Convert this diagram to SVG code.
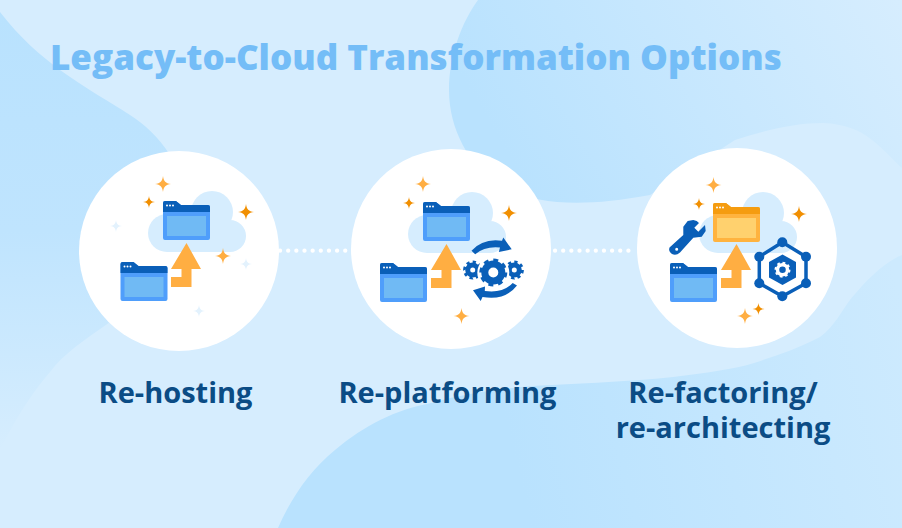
<svg xmlns="http://www.w3.org/2000/svg" width="902" height="528" viewBox="0 0 902 528">
<style>
.t{font-family:"Open Sans","Noto Sans",sans-serif;font-weight:700;fill:#0b4c85;font-size:29px;text-anchor:middle}
.title{font-family:"Open Sans","Noto Sans",sans-serif;font-weight:800;fill:#74bdf7;font-size:35px}
.c{fill:#fff}.cl{fill:#d6edfe}.bar{fill:#0a5fb8}.body{fill:#4f9efb}.pane{fill:#70baf4}
.o{fill:#ffae42}.d{fill:#f18f01}.f{fill:#e3f2fd}.g{fill:#0a5fb8}
.ob{fill:#f59c10}.ob2{fill:#ffb33f}.op{fill:#ffd16e}
.dot{fill:none;stroke:#fff;stroke-width:4.200;stroke-linecap:round;stroke-dasharray:.1 8.05}
.ring{fill:none;stroke:#0a5fb8}
</style>
<defs>
<linearGradient id="gl" x1="0" y1="0" x2="0" y2="1"><stop offset="0" stop-color="#b9e2fe"/><stop offset=".5" stop-color="#bfe4fe"/><stop offset="1" stop-color="#d6edfe"/></linearGradient>
<linearGradient id="gt" gradientUnits="userSpaceOnUse" x1="540" y1="210" x2="900" y2="0"><stop offset="0" stop-color="#b9e2fe"/><stop offset="1" stop-color="#d6edfe"/></linearGradient>
<linearGradient id="gb" gradientUnits="userSpaceOnUse" x1="500" y1="400" x2="902" y2="300"><stop offset="0" stop-color="#b9e2fe"/><stop offset="1" stop-color="#cdeafe"/></linearGradient>
<path id="s" d="M0-8C.8-2.500 2.500-.8 8 0 2.500.8.8 2.500 0 8-.8 2.500-2.500.8-8 0-2.500-.8-.8-2.500 0-8Z"/>
<g id="cloud"><circle cx="19" cy="42" r="19"/><circle cx="64" cy="21" r="21"/><circle cx="82" cy="45" r="16"/><rect x="19" y="24" width="63" height="37"/></g>
<g id="win"><path class="body" d="M0 2q0-2 2-2h11l5 4h27q2 0 2 2v31q0 2-2 2H2q-2 0-2-2Z"/><path class="bar" d="M0 6V2q0-2 2-2h11l5 4h27q2 0 2 2v5H0Z"/><rect class="pane" x="4" y="15" width="39" height="20"/><circle class="c" cx="4" cy="4.500" r="1"/><circle class="c" cx="7" cy="4.500" r="1"/><circle class="c" cx="10" cy="4.500" r="1"/></g>
<path id="arrow" d="M15.500 0 30 26H20.500V44H0V34H10.500V26H0Z"/>
<g id="sidegear"><circle class="ring" r="5" stroke-width="5"/><circle class="ring" r="8" stroke-width="3.200" pathLength="16" stroke-dasharray="1 1"/></g>
</defs>
<rect width="902" height="528" fill="#d6edfe"/>
<path fill="url(#gl)" d="M0 12C20 38 40 55 60 70 85 88 110 102 130 115 145 125 158 136 170 155L180 300 110 322C85 340 65 352 50 372 30 395 15 420 0 450Z"/>
<path fill="url(#gt)" d="M478 0C462 22 449 55 449 90 449 130 470 165 495 183 530 205 580 208 650 195L735 140C765 130 795 123 823 123 845 124 860 130 872 140 885 150 893 160 902 168V0Z"/>
<path fill="url(#gb)" d="M278 528C290 500 310 470 335 450 365 425 395 410 431 403 470 392 510 387 552 385 590 383 635 381 673 377 705 373 735 369 754 363 775 356 795 350 820 337 835 326 842 310 850 300 860 288 880 264 902 255V528Z"/>
<text class="title" x="50" y="70">Legacy-to-Cloud Transformation Options</text>
<g id="connectors">
<path class="dot" d="M280 250.700H346"/>
<path class="dot" d="M555 250.700H636"/>
</g>
<g id="node-rehosting">
<circle class="c" cx="179" cy="251" r="100"/>
<use href="#cloud" class="cl" x="148" y="191"/>
<use href="#win" x="163" y="201"/>
<use href="#win" x="120.500" y="262"/>
<use href="#arrow" class="o" x="171" y="243"/>
<use href="#s" class="o" x="163" y="184"/>
<use href="#s" class="d" transform="translate(149 202) scale(.75)"/>
<use href="#s" class="d" x="246" y="212"/>
<use href="#s" class="o" x="223" y="256"/>
<use href="#s" class="f" transform="translate(116 226) scale(.75)"/>
<use href="#s" class="f" transform="translate(246 264) scale(.75)"/>
<use href="#s" class="f" transform="translate(199 311) scale(.75)"/>
<text class="t" x="175.500" y="403">Re-hosting</text>
</g>
<g id="node-replatforming">
<circle class="c" cx="451" cy="249" r="100"/>
<use href="#cloud" class="cl" x="408" y="192"/>
<use href="#win" x="423" y="202"/>
<use href="#win" x="380" y="263"/>
<use href="#arrow" class="o" x="431" y="244"/>
<use href="#s" class="o" x="423" y="184"/>
<use href="#s" class="d" transform="translate(409 203) scale(.75)"/>
<use href="#s" class="d" x="509" y="213"/>
<use href="#s" class="o" x="461.500" y="316"/>
<use href="#sidegear" x="472.700" y="270"/>
<use href="#sidegear" x="514.300" y="270"/>
<circle class="c" cx="493.300" cy="272.500" r="16"/>
<circle class="ring" cx="493.300" cy="272.500" r="8.500" stroke-width="7"/>
<circle class="ring" cx="493.300" cy="272.500" r="12" stroke-width="4" pathLength="16" stroke-dasharray="1 1"/>
<path class="g" d="M471.500 250.800Q483 238 502 240.800L503.300 237.500 511.700 249.300 498.800 252 500 247.500Q485 246 475.200 254.200Z"/>
<path class="g" d="M517 285.500Q505 301 482.500 297L480.700 301 473 290.300 485 286.500 484.800 291Q503 293.500 512.700 283Z"/>
<text class="t" x="447.500" y="403">Re-platforming</text>
</g>
<g id="node-refactoring">
<circle class="c" cx="737" cy="248" r="100"/>
<use href="#cloud" class="cl" x="699" y="192"/>
<use href="#win" x="670" y="263"/>
<g transform="translate(713 203)"><path class="ob2" d="M0 2q0-2 2-2h11l5 4h27q2 0 2 2v31q0 2-2 2H2q-2 0-2-2Z"/><path class="ob" d="M0 6V2q0-2 2-2h11l5 4h27q2 0 2 2v5H0Z"/><rect class="op" x="4" y="15" width="39" height="20"/><circle class="c" cx="4" cy="4.500" r="1"/><circle class="c" cx="7" cy="4.500" r="1"/><circle class="c" cx="10" cy="4.500" r="1"/></g>
<use href="#arrow" class="o" x="721" y="244"/>
<use href="#s" class="o" x="713.500" y="185"/>
<use href="#s" class="d" transform="translate(699 204) scale(.75)"/>
<use href="#s" class="d" x="799" y="214"/>
<use href="#s" class="o" x="745" y="316"/>
<use href="#s" class="d" transform="translate(758.500 309) scale(.75)"/>
<path class="g" fill-rule="evenodd" d="M687.700 221 693.300 220 696.700 221 699 223 694.300 227.700 698.300 231.700 703 227 705 225 705.700 231 701.700 236.700 693.300 237.700 680 252.500Q676 256 672 254 668 251 669.500 247.500L683.300 235 683.300 226.700ZM675.200 249.300a1.500 1.500 0 1 0 3 0 1.500 1.500 0 1 0-3 0Z"/>
<path fill="none" stroke="#0a5fb8" stroke-width="3.500" d="M782.300 242.300 806 256.700V283.300L782.300 296.300 759.300 283.300V256.700Z"/>
<g class="g">
<circle cx="782.300" cy="242.300" r="5"/><circle cx="806" cy="256.700" r="5"/><circle cx="806" cy="283.300" r="5"/><circle cx="782.300" cy="296.300" r="5"/><circle cx="759.300" cy="283.300" r="5"/><circle cx="759.300" cy="256.700" r="5"/>
<path d="M782.500 254.500 796 262V277.500L782.500 285 769 277.500V262Z"/></g>
<circle cx="782.500" cy="269.700" r="5" fill="none" stroke="#fff" stroke-width="3.500"/>
<circle cx="782.500" cy="269.700" r="7" fill="none" stroke="#fff" stroke-width="2" pathLength="16" stroke-dasharray="1 1"/>
<text class="t" x="723" y="403">Re-factoring/</text>
<text class="t" x="723" y="438">re-architecting</text>
</g>
</svg>
